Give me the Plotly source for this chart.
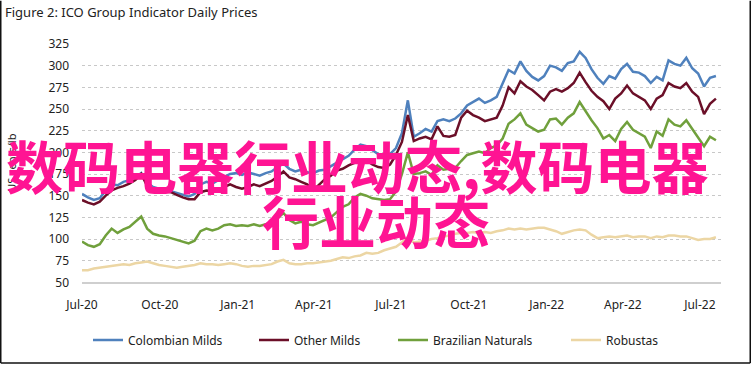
import pandas as pd
import plotly.graph_objects as go

# ---- data (weekly readings, US cents/lb) ----
start_date = "2020-07-01"
n_weeks = 108
dates = pd.date_range(start_date, periods=n_weeks, freq="7D")

colombian_milds = [
    152, 148, 145, 147, 156, 163, 162, 166, 168, 171, 176, 165, 160, 158, 156, 155, 153, 151, 149, 152,
    163, 166, 164, 168, 172, 175, 176, 174, 177, 175, 173, 176, 178, 183, 187, 181, 178, 180, 177, 176,
    179, 180, 184, 188, 192, 196, 203, 209, 207, 203, 198, 196, 198, 205, 222, 260, 218, 222, 227, 224,
    236, 238, 236, 239, 245, 254, 258, 262, 257, 260, 264, 280, 295, 291, 305, 294, 287, 283, 288, 300,
    298, 294, 303, 305, 316, 309, 296, 286, 279, 288, 285, 296, 302, 293, 292, 288, 280, 287, 283, 306,
    302, 300, 309, 297, 291, 276, 286, 288,
]
other_milds = [
    145, 142, 140, 143, 150, 156, 159, 161, 164, 168, 175, 161, 157, 156, 155, 154, 151, 148, 146, 146,
    154, 156, 155, 157, 160, 163, 160, 158, 160, 163, 161, 164, 167, 172, 178, 171, 169, 166, 163, 156,
    162, 169, 173, 179, 181, 185, 188, 190, 191, 186, 183, 182, 186, 197, 212, 243, 213, 216, 218, 215,
    230, 219, 218, 220, 240, 248, 243, 240, 236, 238, 240, 254, 275, 268, 282, 276, 272, 266, 260, 270,
    273, 270, 274, 280, 292, 281, 271, 264, 259, 250, 262, 268, 277, 268, 264, 260, 250, 262, 266, 280,
    276, 274, 280, 270, 264, 244, 256, 262,
]
brazilian_naturals = [
    97, 93, 91, 94, 104, 112, 107, 111, 114, 120, 126, 112, 106, 104, 103, 101, 99, 97, 95, 98,
    109, 112, 110, 112, 116, 117, 115, 116, 115, 117, 115, 117, 118, 124, 130, 122, 118, 120, 117, 116,
    119, 122, 125, 131, 137, 140, 148, 152, 150, 147, 146, 145, 146, 155, 175, 200, 175, 176, 178, 174,
    185, 180, 181, 182, 190, 197, 199, 201, 199, 205, 208, 216, 233, 238, 245, 232, 228, 224, 226, 238,
    239, 232, 240, 245, 258, 247, 237, 228, 216, 220, 213, 227, 235, 226, 222, 218, 205, 224, 219, 238,
    232, 230, 237, 227, 218, 207, 218, 214,
]
robustas = [
    64, 64, 66, 67, 68, 69, 70, 71, 70, 72, 73, 74, 72, 70, 69, 68, 67, 68, 69, 70,
    72, 71, 71, 70, 71, 72, 71, 69, 68, 69, 69, 70, 71, 74, 76, 72, 71, 71, 72, 72,
    73, 74, 75, 77, 79, 78, 80, 81, 84, 83, 84, 87, 89, 91, 96, 102, 96, 97, 98, 100,
    101, 103, 104, 106, 107, 107, 108, 107, 108, 107, 109, 110, 112, 111, 112, 111, 112, 113, 113, 111,
    109, 106, 108, 110, 111, 110, 105, 101, 102, 103, 102, 103, 104, 102, 103, 103, 101, 103, 102, 104,
    104, 103, 103, 101, 99, 100, 100, 102,
]

series_names = ["Colombian Milds", "Other Milds", "Brazilian Naturals", "Robustas"]
series_values = [colombian_milds, other_milds, brazilian_naturals, robustas]
series_colors = ["#4f81bd", "#6b0f28", "#70a03c", "#ecd6a4"]

tick_dates = ["2020-07-01", "2020-10-01", "2021-01-01", "2021-04-01", "2021-07-01",
              "2021-10-01", "2022-01-01", "2022-04-01", "2022-07-01"]
tick_labels = ["Jul-20", "Oct-20", "Jan-21", "Apr-21", "Jul-21",
               "Oct-21", "Jan-22", "Apr-22", "Jul-22"]
y_ticks = [50, 75, 100, 125, 150, 175, 200, 225, 250, 275, 300, 325]

title_text = "Figure 2: ICO Group Indicator Daily Prices"
y_title = "US cents/lb"
overlay_line1 = "数码电器行业动态,数码电器"
overlay_line2 = "行业动态"

# ---- figure ----
W, H = 751, 370
L, R, T, B = 82, 30, 44, 83
FONT = "Noto Sans"
legend_keys = ["legend", "legend2", "legend3", "legend4"]
legend_line_starts = [93, 259, 398, 571]   # px where each legend line sample begins

def px_x(px):
    return (px - L) / (W - L - R)

def px_y(py):
    return (H - B - py) / (H - B - T)

fig = go.Figure()
for name, vals, col, lk in zip(series_names, series_values, series_colors, legend_keys):
    fig.add_trace(go.Scatter(x=dates, y=vals, mode="lines", name=name, legend=lk,
                             line=dict(color=col, width=2.5)))

legend_common = dict(orientation="h", xref="container", yref="container",
                     xanchor="left", y=1 - 340 / H, yanchor="middle",
                     font=dict(family=FONT, size=12, color="#222222"),
                     itemwidth=30, bgcolor="rgba(0,0,0,0)", borderwidth=0)
legends = {}
for lk, xs in zip(legend_keys, legend_line_starts):
    legends[lk] = dict(legend_common, x=(xs - 5) / W)

fig.update_layout(
    width=W, height=H, autosize=False,
    margin=dict(l=L, r=R, t=T, b=B, pad=0),
    paper_bgcolor="white", plot_bgcolor="white",
    font=dict(family=FONT, size=12, color="#222222"),
    title=dict(text=title_text, x=5 / W, xanchor="left", xref="container",
               y=1 - 12 / H, yanchor="middle", yref="container",
               font=dict(family=FONT, size=13, color="#222222")),
    showlegend=True,
    **legends,
)

fig.update_xaxes(
    range=["2020-07-01", "2022-07-26"],
    tickvals=tick_dates, ticktext=tick_labels,
    showgrid=False, zeroline=False,
    showline=True, linecolor="#cfcfcf", linewidth=1.5,
    ticks="", ticklabelstandoff=11,
    tickfont=dict(family=FONT, size=12, color="#222222"),
)
fig.update_yaxes(
    range=[50, 325], tickvals=y_ticks,
    showgrid=True, gridcolor="#c8c8c8", griddash="dot", gridwidth=1,
    zeroline=False, showline=False,
    ticks="", ticklabelstandoff=12,
    tickfont=dict(family=FONT, size=12, color="#222222"),
)

# y-axis title
fig.add_annotation(text=y_title, xref="paper", yref="paper",
                   x=px_x(12), y=px_y(165), textangle=-90, showarrow=False,
                   xanchor="center", yanchor="middle",
                   font=dict(family=FONT, size=11, color="#222222"))

# overlay text
ov_font = dict(family="Noto Sans CJK SC", size=57, color="#ff1493", weight="bold")
fig.add_annotation(text=overlay_line1, xref="paper", yref="paper",
                   x=px_x(357), y=px_y(166), showarrow=False,
                   xanchor="center", yanchor="middle", font=ov_font)
fig.add_annotation(text=overlay_line2, xref="paper", yref="paper",
                   x=px_x(376), y=px_y(222), showarrow=False,
                   xanchor="center", yanchor="middle", font=ov_font)

# outer frame (left, right, bottom)
frame = dict(color="#111111", width=1.5)
fig.add_shape(type="line", xref="paper", yref="paper",
              x0=px_x(0.75), x1=px_x(0.75), y0=px_y(0), y1=px_y(369.25), line=frame)
fig.add_shape(type="line", xref="paper", yref="paper",
              x0=px_x(750.25), x1=px_x(750.25), y0=px_y(0), y1=px_y(369.25), line=frame)
fig.add_shape(type="line", xref="paper", yref="paper",
              x0=px_x(0.75), x1=px_x(750.25), y0=px_y(369.25), y1=px_y(369.25), line=frame)

fig.write_html("out.html",
               config={"displayModeBar": False},
               post_script="document.body.style.margin='0';document.body.style.padding='0';")
